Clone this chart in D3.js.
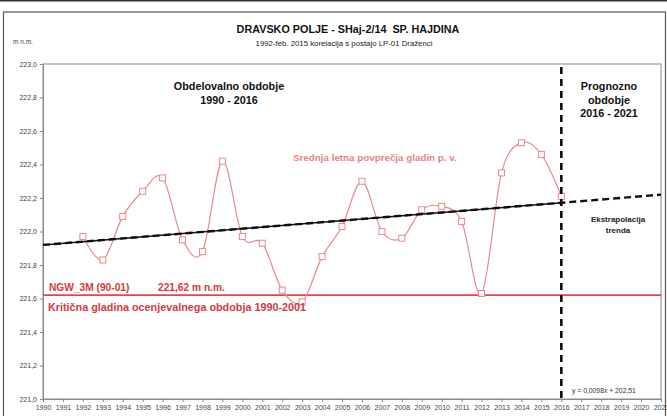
<!DOCTYPE html>
<html>
<head>
<meta charset="utf-8">
<script src="https://cdn.jsdelivr.net/npm/d3@7"></script>
<style>
  html, body { margin: 0; padding: 0; background: #fff; }
  svg { display: block; font-family: "Liberation Sans", Arial, sans-serif; }
</style>
</head>
<body>
<svg id="chart" width="667" height="416"></svg>
<script>
// ---- data ----
const years = [1992,1993,1994,1995,1996,1997,1998,1999,2000,2001,2002,2003,2004,2005,2006,2007,2008,2009,2010,2011,2012,2013,2014,2015,2016];
const levels = [221.97,221.83,222.09,222.24,222.32,221.95,221.88,222.42,221.97,221.93,221.65,221.58,221.85,222.03,222.30,222.00,221.96,222.13,222.15,222.06,221.63,222.35,222.53,222.46,222.21];
const trendYears = [1990, 2021];
const trendValues = [221.92, 222.22];
const criticalLevel = 221.62;
const splitYear = 2016;
const xTickYears = d3.range(1990, 2022);
const yTickValues = [221.0,221.2,221.4,221.6,221.8,222.0,222.2,222.4,222.6,222.8,223.0];

// ---- layout ----
const svg = d3.select("#chart");
const L = 43, R = 661, T = 64, B = 399;
const x = d3.scaleLinear().domain([1990, 2021]).range([L, R]);
const y = d3.scaleLinear().domain([221, 223]).range([B, T]);
const fmt = v => d3.format(".1f")(v).replace(".", ",");

// outer frame
svg.append("rect").attr("x", 0).attr("y", 0).attr("width", 667).attr("height", 1.5).attr("fill", "#333");
svg.append("rect").attr("x", 3.5).attr("y", 12).attr("width", 662).attr("height", 420)
  .attr("fill", "none").attr("stroke", "#555").attr("stroke-width", 1.2);

// title
svg.append("text").attr("x", 348).attr("y", 33).attr("text-anchor", "middle")
  .attr("font-size", 10.8).attr("font-weight", "bold").attr("fill", "#111")
  .style("white-space", "pre").text("DRAVSKO POLJE - SHaj-2/14  SP. HAJDINA");
svg.append("text").attr("x", 344).attr("y", 46).attr("text-anchor", "middle")
  .attr("font-size", 7.8).attr("fill", "#222")
  .text("1992-feb. 2015 korelacija s postajo LP-01 Draženci");
svg.append("text").attr("x", 13).attr("y", 44).attr("font-size", 6.5).attr("fill", "#444").text("m n.m.");

// plot area
svg.append("rect").attr("x", L).attr("y", T).attr("width", R - L).attr("height", B - T)
  .attr("fill", "#fff").attr("stroke", "#8a8a8a").attr("stroke-width", 1);

// axes
const yAxis = svg.append("g").attr("transform", `translate(${L},0)`)
  .call(d3.axisLeft(y).tickValues(yTickValues).tickFormat(fmt).tickSize(3).tickPadding(3));
const xAxis = svg.append("g").attr("transform", `translate(0,${B})`)
  .call(d3.axisBottom(x).tickValues(xTickYears).tickFormat(d3.format("d")).tickSize(3).tickPadding(3));
[yAxis, xAxis].forEach(g => {
  g.select(".domain").attr("stroke", "#8a8a8a");
  g.selectAll(".tick line").attr("stroke", "#8a8a8a");
  g.selectAll(".tick text").attr("fill", "#444").attr("font-size", 7)
    .attr("font-family", "'Liberation Sans', Arial, sans-serif");
});

// clip for trend solid part
svg.append("clipPath").attr("id", "obs").append("rect")
  .attr("x", L).attr("y", T).attr("width", x(splitYear) - L).attr("height", B - T);
svg.append("clipPath").attr("id", "plot").append("rect")
  .attr("x", L).attr("y", T).attr("width", R - L).attr("height", B - T);

// critical level line
svg.append("line").attr("x1", L).attr("x2", R).attr("y1", y(criticalLevel)).attr("y2", y(criticalLevel))
  .attr("stroke", "#e0474a").attr("stroke-width", 1.6);

// series
const lineGen = d3.line().x((d, i) => x(years[i])).y(d => y(d)).curve(d3.curveCardinal.tension(0));
svg.append("path").attr("d", lineGen(levels)).attr("fill", "none")
  .attr("stroke", "#e98a8c").attr("stroke-width", 1.2).attr("clip-path", "url(#plot)");
svg.append("g").selectAll("rect").data(levels).join("rect")
  .attr("x", (d, i) => x(years[i]) - 3).attr("y", d => y(d) - 3)
  .attr("width", 6).attr("height", 6).attr("fill", "#fff")
  .attr("stroke", "#e98a8c").attr("stroke-width", 1);

// trend
const trendLine = d3.line().x((d, i) => x(trendYears[i])).y(d => y(d));
svg.append("path").attr("d", trendLine(trendValues)).attr("fill", "none")
  .attr("stroke", "#111").attr("stroke-width", 1.5).attr("clip-path", "url(#obs)");
svg.append("path").attr("d", trendLine(trendValues)).attr("fill", "none")
  .attr("stroke", "#111").attr("stroke-width", 2.4).attr("stroke-dasharray", "7,4");

// split line
svg.append("line").attr("x1", x(splitYear)).attr("x2", x(splitYear)).attr("y1", T + 3).attr("y2", B)
  .attr("stroke", "#111").attr("stroke-width", 2.6).attr("stroke-dasharray", "7,5");

// annotations
function block(lines, cx, y0, dy, size, color, weight) {
  lines.forEach((t, i) => svg.append("text").attr("x", cx).attr("y", y0 + i * dy)
    .attr("text-anchor", "middle").attr("font-size", size).attr("font-weight", weight)
    .attr("fill", color).text(t));
}
block(["Obdelovalno obdobje", "1990 - 2016"], 229, 90, 13.5, 10.8, "#111", "bold");
block(["Prognozno", "obdobje", "2016 - 2021"], 609, 90, 13.5, 10.8, "#111", "bold");
block(["Ekstrapolacija", "trenda"], 618, 222, 10.5, 8, "#222", "bold");

svg.append("text").attr("x", 293).attr("y", 161).attr("font-size", 9.8).attr("font-weight", "bold")
  .attr("fill", "#e58486").text("Srednja letna povprečja gladin p. v.");
svg.append("text").attr("x", 49).attr("y", 291).attr("font-size", 10.2).attr("font-weight", "bold")
  .attr("fill", "#d33a3d").text("NGW_3M (90-01)");
svg.append("text").attr("x", 158).attr("y", 291).attr("font-size", 10.2).attr("font-weight", "bold")
  .attr("fill", "#d33a3d").text("221,62 m n.m.");
svg.append("text").attr("x", 48).attr("y", 311).attr("font-size", 10.8).attr("font-weight", "bold")
  .attr("fill", "#d33a3d").text("Kritična gladina ocenjevalnega obdobja 1990-2001");
svg.append("text").attr("x", 572).attr("y", 393).attr("font-size", 6.8)
  .attr("fill", "#333").text("y = 0,0098x + 202,51");
</script>
</body>
</html>
